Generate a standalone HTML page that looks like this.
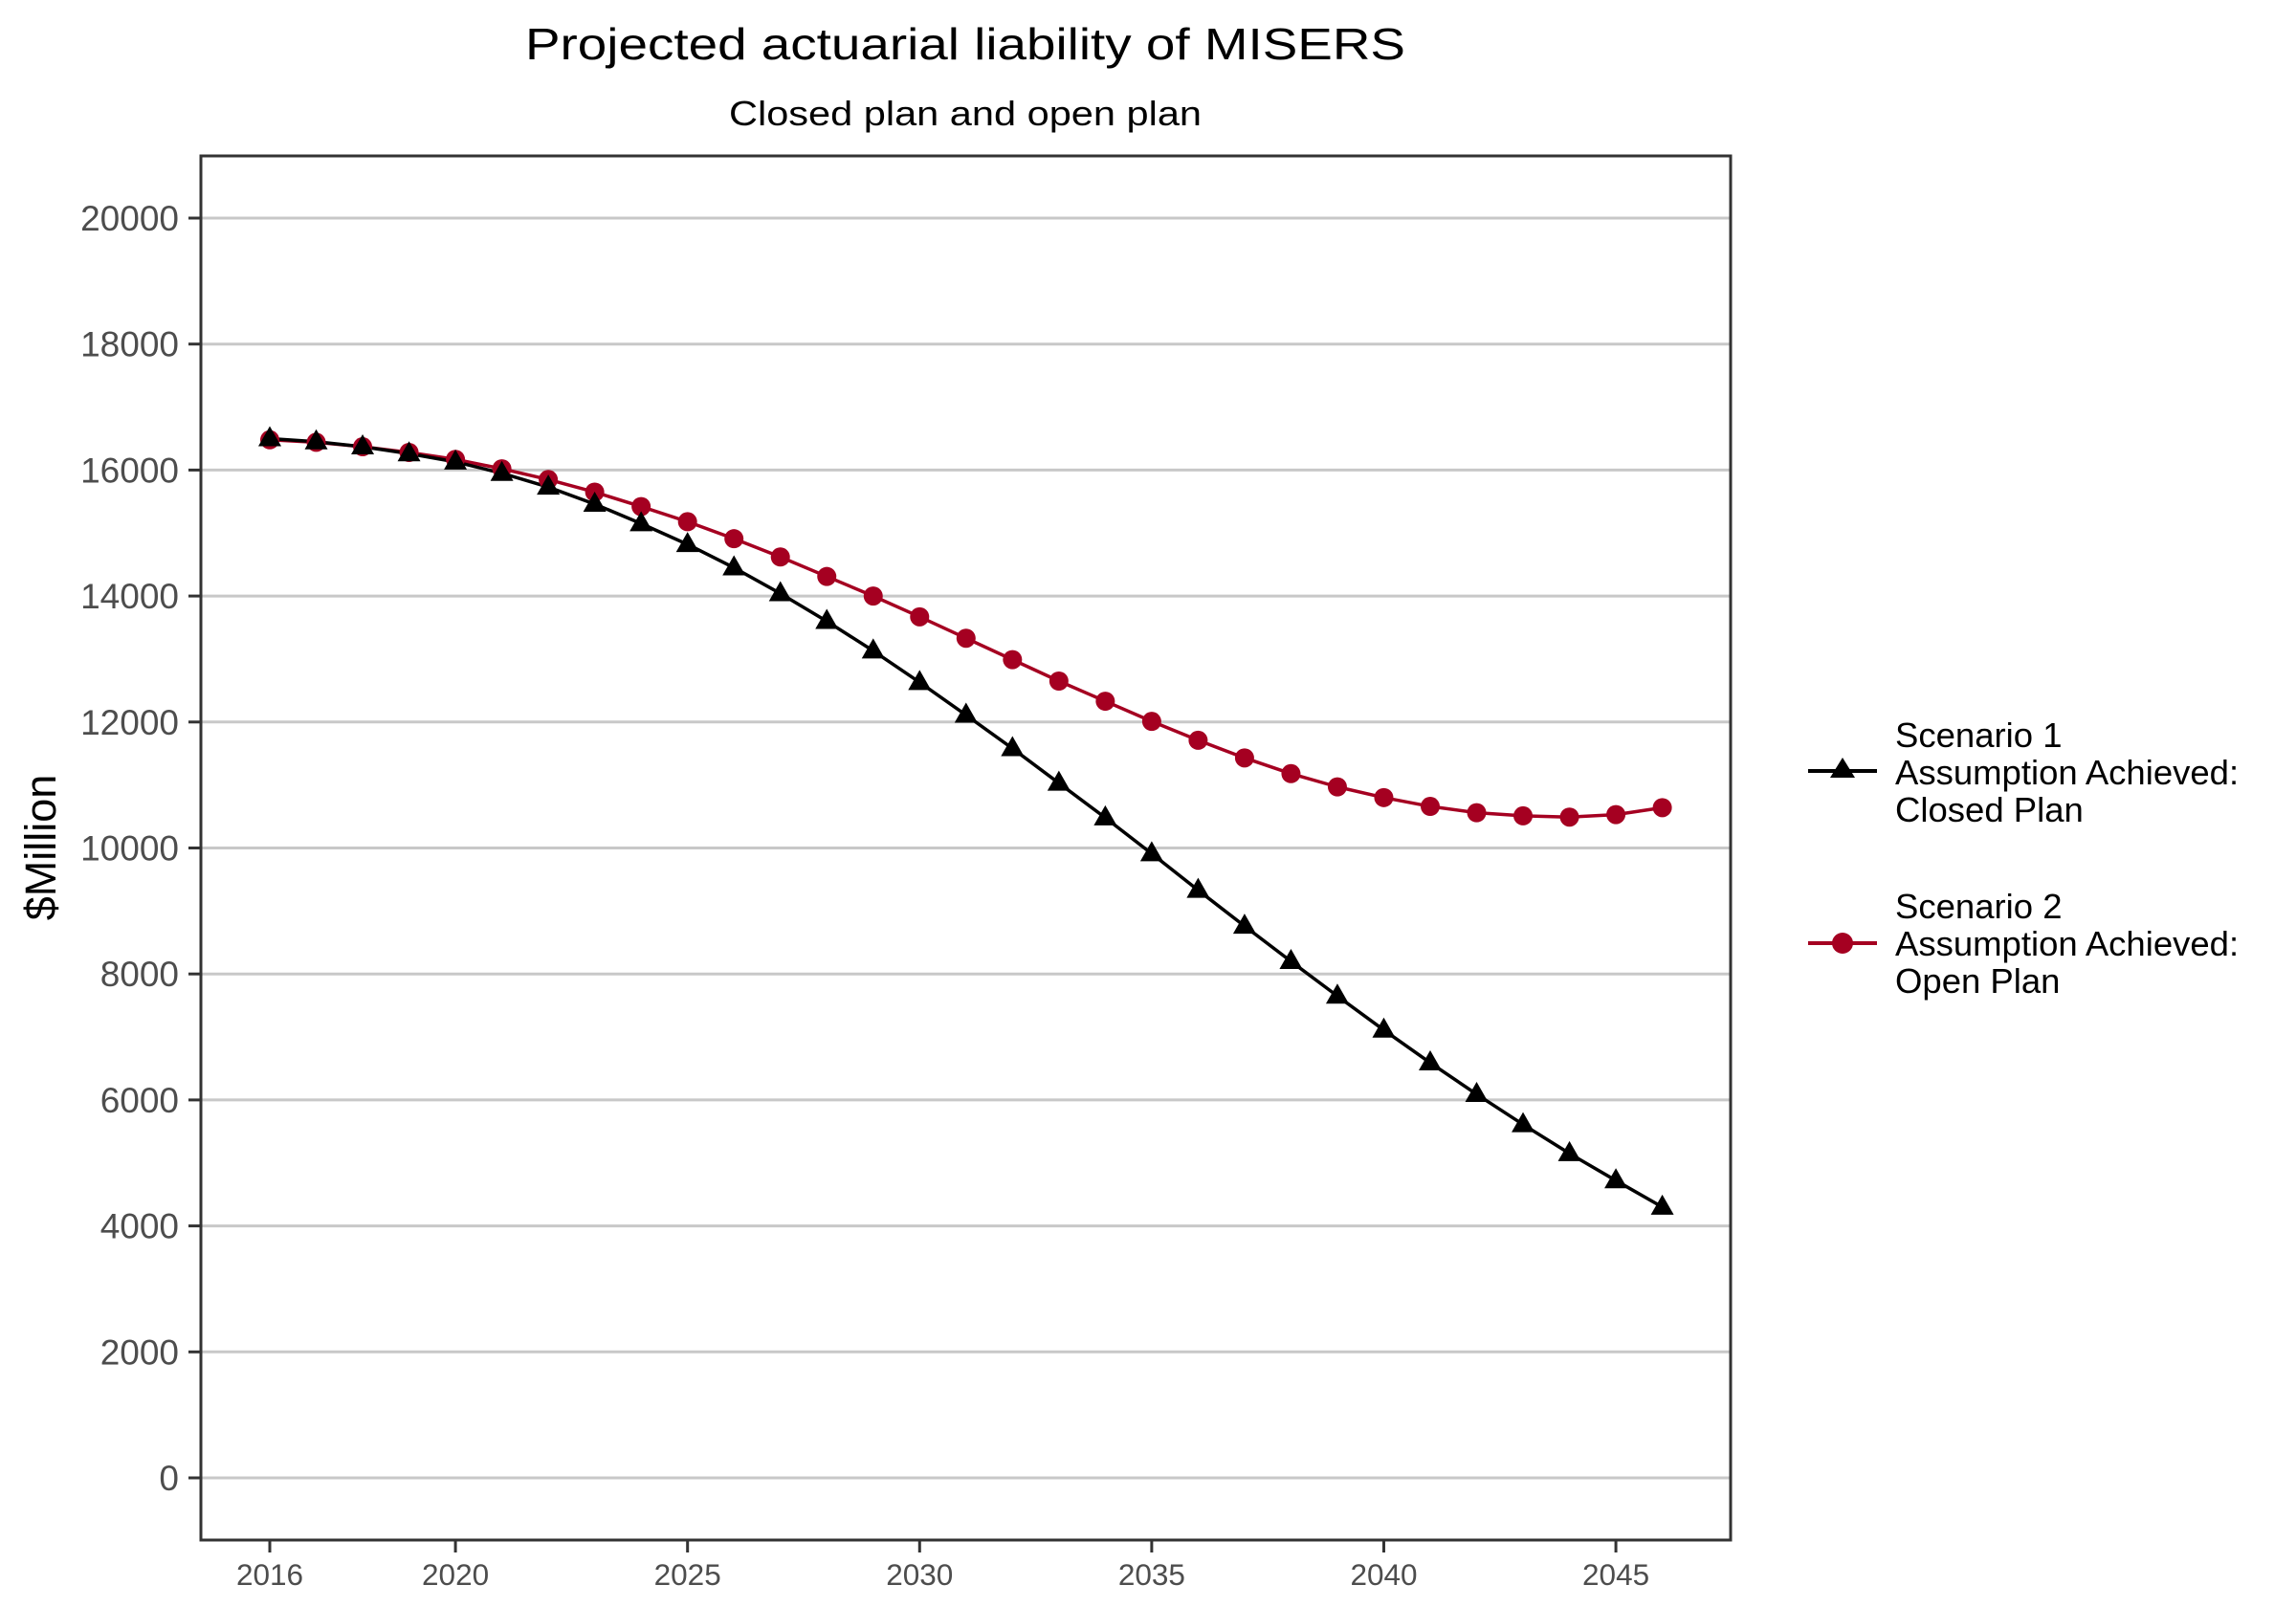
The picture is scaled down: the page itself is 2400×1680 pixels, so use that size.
<!DOCTYPE html>
<html><head><meta charset="utf-8"><style>
html,body{margin:0;padding:0;background:#fff;}
svg{display:block;font-family:"Liberation Sans",Arial,sans-serif;}
</style></head><body>
<svg id="chart" width="2400" height="1680" viewBox="0 0 2400 1680">
<rect width="2400" height="1680" fill="#fff"/>
<text x="1009" y="62" font-size="46" text-anchor="middle" textLength="920" lengthAdjust="spacingAndGlyphs">Projected actuarial liability of MISERS</text>
<text x="1009" y="131" font-size="36" text-anchor="middle" textLength="494" lengthAdjust="spacingAndGlyphs">Closed plan and open plan</text>
<text transform="translate(58,886) rotate(-90)" font-size="45" text-anchor="middle">$Million</text>
<g id="grid"></g>
<g id="series"></g>
<rect x="210" y="163" width="1599" height="1447" fill="none" stroke="#333" stroke-width="3"/>
<g id="axes"></g>
<g>
  <g>
    <line x1="1890" y1="806" x2="1962" y2="806" stroke="#000" stroke-width="4"/>
    <polygon points="1926,792 1939,813 1913,813" fill="#000"/>
    <text x="1981" y="781" font-size="36.5">Scenario 1</text>
    <text x="1981" y="820" font-size="36.5">Assumption Achieved:</text>
    <text x="1981" y="859" font-size="36.5">Closed Plan</text>
  </g>
  <g>
    <line x1="1890" y1="986" x2="1962" y2="986" stroke="#a50021" stroke-width="4"/>
    <circle cx="1926" cy="986" r="11" fill="#a50021"/>
    <text x="1981" y="960" font-size="36.5">Scenario 2</text>
    <text x="1981" y="999" font-size="36.5">Assumption Achieved:</text>
    <text x="1981" y="1038" font-size="36.5">Open Plan</text>
  </g>
</g>
</svg>
<script>
const years = [2016,2017,2018,2019,2020,2021,2022,2023,2024,2025,2026,2027,2028,2029,2030,2031,2032,2033,2034,2035,2036,2037,2038,2039,2040,2041,2042,2043,2044,2045,2046];
const closedPlan = [16500,16450,16370,16260,16130,15950,15730,15460,15150,14820,14450,14040,13600,13130,12630,12110,11580,11030,10480,9910,9330,8760,8200,7650,7110,6590,6090,5610,5150,4720,4300];
const openPlan = [16480,16440,16370,16280,16170,16020,15850,15650,15420,15180,14910,14620,14310,14000,13670,13330,12990,12650,12330,12010,11710,11430,11180,10970,10800,10660,10560,10510,10490,10530,10640];
const yTicks = [0,2000,4000,6000,8000,10000,12000,14000,16000,18000,20000];
const xTicks = [2016,2020,2025,2030,2035,2040,2045];

const NS = "http://www.w3.org/2000/svg";
function xs(v){ return 282 + (v - 2016) * 48.52; }
function ys(v){ return 1545 - v * (1317 / 20000); }
function mk(tag, attrs, parent){
  const e = document.createElementNS(NS, tag);
  for (const k in attrs) e.setAttribute(k, attrs[k]);
  parent.appendChild(e);
  return e;
}
const grid = document.getElementById('grid');
const axes = document.getElementById('axes');
const series = document.getElementById('series');

yTicks.forEach(v => {
  const g = mk('line', {x1:210, x2:1809, y1:ys(v), y2:ys(v), stroke:'#c8c8c8', 'stroke-width':3}, grid);
  
  
  mk('line', {x1:197, x2:210, y1:ys(v), y2:ys(v), stroke:'#333', 'stroke-width':3}, axes);
  const t = mk('text', {x:187, y:ys(v) + 13, 'font-size':37, fill:'#4d4d4d', 'text-anchor':'end'}, axes);
  t.textContent = v;
  
  
});
xTicks.forEach(v => {
  mk('line', {x1:xs(v), x2:xs(v), y1:1610, y2:1623, stroke:'#333', 'stroke-width':3}, axes);
  const t = mk('text', {x:xs(v), y:1657, 'font-size':31.5, fill:'#4d4d4d', 'text-anchor':'middle'}, axes);
  t.textContent = v;
  
  
});

function drawLine(vals, color, name){
  const pts = vals.map((v, i) => xs(years[i]) + ',' + ys(v)).join(' ');
  const l = mk('polyline', {points:pts, fill:'none', stroke:color, 'stroke-width':3.5, 'stroke-linejoin':'round'}, series);
  
  
}
drawLine(openPlan, '#a50021', 'open-plan-line');
drawLine(closedPlan, '#000', 'closed-plan-line');
openPlan.forEach((v, i) => {
  const c = mk('circle', {cx:xs(years[i]), cy:ys(v), r:10, fill:'#a50021'}, series);
  
  
});
closedPlan.forEach((v, i) => {
  const x = xs(years[i]), y = ys(v);
  const p = mk('polygon', {points:(x)+','+(y-13)+' '+(x+12)+','+(y+8)+' '+(x-12)+','+(y+8), fill:'#000'}, series);
  
  
});
</script>
</body></html>
